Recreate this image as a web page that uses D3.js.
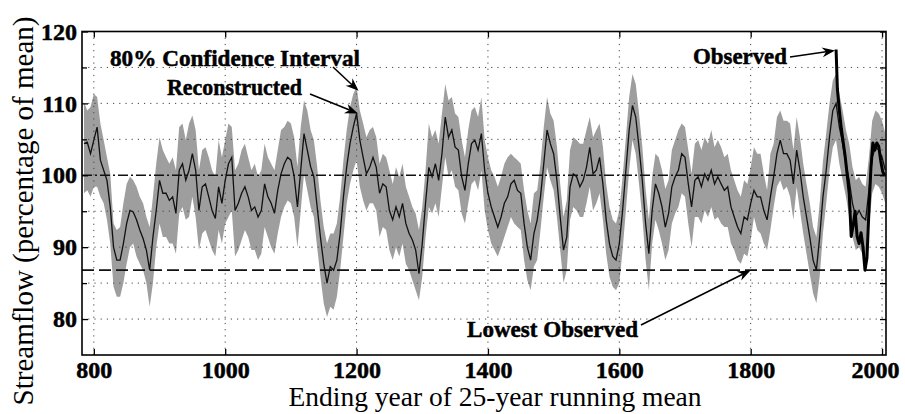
<!DOCTYPE html>
<html>
<head>
<meta charset="utf-8">
<script src="https://cdn.jsdelivr.net/npm/d3@7"></script>
<style>
  html, body { margin: 0; padding: 0; background: #fff; }
  svg { display: block; font-family: "Liberation Serif", "Times New Roman", serif; }
  .heavy { font-family: "Liberation Serif", "Times New Roman", serif; font-weight: bold;
           stroke: #000; stroke-width: 0.5px; stroke-linejoin: round; }
</style>
</head>
<body>
<svg id="chart" width="905" height="414"></svg>
<script>
// Ending year of each 25-year running mean (reconstruction)
const years = [
  785, 790, 795, 800, 805, 810, 815, 820, 825, 830, 835, 840, 845, 850, 855, 860, 865, 870, 875, 880,
  885, 890, 895, 900, 905, 910, 915, 920, 925, 930, 935, 940, 945, 950, 955, 960, 965, 970, 975, 980,
  985, 990, 995, 1000, 1005, 1010, 1015, 1020, 1025, 1030, 1035, 1040, 1045, 1050, 1055, 1060, 1065, 1070, 1075, 1080,
  1085, 1090, 1095, 1100, 1105, 1110, 1115, 1120, 1125, 1130, 1135, 1140, 1145, 1150, 1155, 1160, 1165, 1170, 1175, 1180,
  1185, 1190, 1195, 1200, 1205, 1210, 1215, 1220, 1225, 1230, 1235, 1240, 1245, 1250, 1255, 1260, 1265, 1270, 1275, 1280,
  1285, 1290, 1295, 1300, 1305, 1310, 1315, 1320, 1325, 1330, 1335, 1340, 1345, 1350, 1355, 1360, 1365, 1370, 1375, 1380,
  1385, 1390, 1395, 1400, 1405, 1410, 1415, 1420, 1425, 1430, 1435, 1440, 1445, 1450, 1455, 1460, 1465, 1470, 1475, 1480,
  1485, 1490, 1495, 1500, 1505, 1510, 1515, 1520, 1525, 1530, 1535, 1540, 1545, 1550, 1555, 1560, 1565, 1570, 1575, 1580,
  1585, 1590, 1595, 1600, 1605, 1610, 1615, 1620, 1625, 1630, 1635, 1640, 1645, 1650, 1655, 1660, 1665, 1670, 1675, 1680,
  1685, 1690, 1695, 1700, 1705, 1710, 1715, 1720, 1725, 1730, 1735, 1740, 1745, 1750, 1755, 1760, 1765, 1770, 1775, 1780,
  1785, 1790, 1795, 1800, 1805, 1810, 1815, 1820, 1825, 1830, 1835, 1840, 1845, 1850, 1855, 1860, 1865, 1870, 1875, 1880,
  1885, 1890, 1895, 1900, 1905, 1910, 1915, 1920, 1925, 1930, 1935, 1940, 1945, 1950, 1955, 1960, 1965, 1970, 1975, 1980,
  1985, 1990, 1995, 2000, 2005
];

// Reconstructed streamflow, percentage of mean
const reconstructed = [
  104.4, 104.6, 103.0, 104.9, 106.7, 102.1, 100.7, 99.3, 95.6, 90.0, 88.2, 88.2, 90.5, 93.3, 95.1, 94.9, 93.8, 92.4, 91.2, 89.6,
  86.8, 91.4, 95.1, 99.3, 97.5, 97.5, 96.5, 97.0, 94.7, 100.7, 101.6, 99.3, 100.7, 103.0, 100.7, 95.1, 98.4, 98.8, 97.0, 95.1,
  94.0, 98.4, 96.1, 99.3, 101.6, 102.5, 95.1, 96.1, 97.5, 98.4, 97.0, 95.1, 95.6, 94.2, 95.1, 98.8, 97.0, 96.1, 94.7, 97.9,
  100.2, 101.6, 102.5, 102.1, 99.8, 95.6, 100.7, 105.8, 103.5, 101.2, 99.8, 95.6, 91.4, 87.7, 85.0, 87.3, 86.8, 88.2, 91.9, 97.0,
  101.2, 104.4, 106.7, 108.6, 104.9, 102.5, 100.2, 101.1, 102.5, 101.1, 97.5, 98.8, 98.4, 95.1, 93.8, 95.6, 94.2, 96.1, 93.3, 91.9,
  91.0, 89.6, 86.3, 90.5, 96.1, 101.1, 99.8, 101.6, 99.3, 103.0, 108.1, 105.3, 106.3, 103.9, 103.5, 99.8, 97.9, 101.6, 104.4, 104.9,
  103.5, 105.8, 100.7, 97.5, 95.6, 94.2, 92.8, 94.2, 96.1, 97.0, 98.8, 99.3, 97.9, 97.5, 93.3, 90.0, 88.2, 91.9, 93.8, 97.0,
  101.6, 106.3, 104.4, 103.0, 99.3, 94.2, 89.6, 91.4, 98.4, 100.2, 99.8, 98.4, 99.3, 101.1, 103.9, 100.2, 100.7, 102.5, 98.8, 93.8,
  90.5, 88.7, 88.2, 90.5, 95.1, 100.7, 106.3, 109.7, 108.1, 103.9, 99.3, 93.3, 89.1, 95.1, 98.8, 97.5, 95.6, 92.8, 94.7, 98.4,
  99.8, 100.7, 103.0, 102.5, 98.8, 95.6, 99.3, 99.8, 98.4, 100.2, 99.3, 100.7, 98.8, 99.8, 98.8, 97.9, 98.4, 95.6, 94.2, 92.8,
  91.9, 94.2, 93.8, 96.1, 97.9, 97.0, 97.0, 95.1, 93.8, 97.0, 99.8, 103.0, 104.9, 103.0, 103.0, 102.1, 98.8, 103.5, 100.7, 97.0,
  94.2, 91.4, 88.2, 86.8, 91.4, 97.0, 100.7, 105.3, 109.0, 110.0, 106.7, 104.4, 101.6, 99.3, 96.1, 94.2, 95.1, 94.2, 93.8, 97.9,
  102.5, 103.9, 103.5, 102.5, 100.7
];

// Upper bound of the 80% confidence interval
const upper80 = [
  110.2, 109.0, 109.5, 111.3, 110.9, 107.2, 104.9, 102.5, 100.2, 93.3, 92.4, 92.8, 96.1, 98.8, 99.8, 99.3, 98.4, 97.0, 96.1, 94.2,
  92.8, 97.0, 101.6, 105.3, 103.5, 102.5, 101.6, 102.5, 100.7, 106.7, 107.2, 104.9, 107.2, 108.3, 106.3, 100.7, 103.5, 103.9, 102.5, 100.7,
  99.8, 104.9, 102.5, 104.9, 107.2, 106.7, 100.7, 101.6, 103.5, 104.4, 102.5, 100.7, 101.6, 99.8, 100.7, 104.4, 102.5, 101.6, 100.7, 103.5,
  106.3, 106.7, 107.6, 107.2, 105.3, 101.2, 106.7, 110.4, 109.0, 106.3, 104.9, 101.2, 96.5, 92.8, 90.5, 91.9, 91.9, 93.3, 97.0, 102.1,
  106.3, 109.5, 111.3, 112.3, 109.0, 107.2, 105.3, 106.3, 106.7, 105.3, 101.6, 103.0, 102.5, 100.7, 98.8, 101.1, 99.8, 101.6, 98.4, 97.0,
  95.6, 94.7, 92.4, 95.6, 100.7, 107.2, 105.3, 106.3, 104.4, 108.6, 112.7, 110.4, 110.9, 108.6, 108.1, 104.9, 102.5, 106.3, 109.0, 109.5,
  108.1, 110.9, 104.9, 102.5, 100.7, 99.8, 98.4, 99.8, 101.6, 102.5, 103.0, 102.5, 102.1, 101.6, 97.9, 95.1, 93.3, 97.5, 97.9, 101.6,
  106.7, 110.9, 108.6, 107.6, 104.0, 98.8, 94.2, 96.5, 103.5, 105.3, 104.9, 104.4, 104.4, 106.3, 108.1, 105.3, 106.3, 107.2, 104.0, 98.8,
  95.6, 93.8, 93.3, 95.1, 99.8, 105.3, 110.9, 114.1, 112.7, 108.6, 104.0, 98.1, 93.8, 99.8, 103.0, 102.5, 100.7, 98.1, 99.3, 103.5,
  104.9, 106.3, 107.2, 106.7, 103.5, 100.2, 104.4, 104.9, 103.5, 105.3, 104.4, 106.3, 103.9, 104.9, 103.9, 102.5, 103.0, 100.7, 99.3, 97.9,
  97.0, 99.3, 98.8, 101.1, 103.9, 103.0, 103.0, 100.2, 97.9, 103.0, 104.4, 108.1, 109.0, 107.6, 107.6, 107.2, 103.5, 108.1, 105.3, 101.6,
  98.8, 96.1, 92.8, 91.4, 96.1, 101.9, 105.8, 110.0, 113.2, 114.1, 111.3, 109.0, 106.3, 104.4, 101.1, 99.3, 99.8, 98.8, 98.4, 102.5,
  107.6, 109.0, 108.6, 107.6, 105.8
];

// Lower bound of the 80% confidence interval
const lower80 = [
  97.5, 97.9, 97.0, 98.4, 98.4, 97.0, 96.1, 93.8, 90.5, 84.5, 83.1, 83.1, 85.0, 87.7, 90.0, 90.5, 88.7, 87.7, 86.8, 85.0,
  81.7, 85.0, 90.0, 93.3, 91.4, 91.4, 90.5, 90.5, 89.1, 94.7, 95.6, 93.8, 94.2, 97.0, 94.2, 89.6, 91.9, 92.4, 91.0, 89.6,
  88.7, 92.4, 90.5, 93.3, 94.2, 95.1, 88.7, 89.6, 91.0, 92.4, 91.4, 89.6, 89.6, 88.2, 89.1, 92.8, 91.4, 90.0, 89.1, 91.9,
  94.2, 95.6, 96.5, 96.1, 94.2, 90.0, 95.1, 100.2, 97.9, 95.6, 94.2, 90.0, 85.9, 82.2, 80.3, 81.7, 81.3, 83.1, 86.8, 91.4,
  96.1, 98.8, 100.7, 102.1, 98.4, 96.5, 95.1, 96.1, 96.1, 95.1, 91.4, 92.8, 92.4, 89.6, 88.2, 90.0, 88.7, 90.5, 87.7, 86.8,
  85.4, 84.0, 82.6, 85.9, 91.4, 95.6, 94.7, 96.1, 94.2, 98.4, 102.5, 99.8, 100.7, 98.4, 97.9, 94.7, 93.3, 96.1, 98.8, 99.3,
  97.9, 100.7, 95.1, 92.4, 90.5, 89.6, 88.7, 90.0, 91.4, 92.8, 94.2, 93.3, 92.8, 92.4, 88.2, 85.4, 84.0, 87.3, 88.2, 92.4,
  97.0, 101.1, 99.3, 97.9, 94.2, 89.6, 85.0, 86.8, 93.8, 95.6, 95.1, 94.2, 94.2, 96.1, 98.4, 95.1, 96.1, 97.5, 93.8, 89.1,
  85.9, 84.5, 84.0, 85.0, 89.6, 95.1, 100.7, 104.9, 103.0, 98.8, 94.2, 88.2, 84.0, 90.5, 93.8, 92.4, 90.5, 88.2, 89.6, 93.3,
  94.7, 95.6, 97.5, 97.0, 93.3, 90.0, 94.2, 94.2, 93.3, 95.1, 94.2, 95.6, 93.8, 94.2, 93.3, 92.8, 92.8, 90.5, 89.6, 88.2,
  87.7, 89.1, 88.7, 91.0, 94.2, 92.4, 91.9, 90.5, 89.6, 92.4, 95.6, 98.4, 99.3, 97.9, 98.4, 97.0, 93.8, 98.4, 95.1, 91.9,
  89.1, 86.3, 83.6, 82.2, 85.9, 91.9, 96.1, 100.7, 103.9, 104.9, 101.6, 99.3, 97.0, 94.2, 91.4, 89.6, 90.0, 89.1, 88.7, 92.8,
  97.5, 98.8, 98.4, 97.5, 96.1
];

// Observed 25-year running mean
const observedYears = [1930, 1932, 1935, 1938, 1941, 1944, 1947, 1950, 1953, 1956, 1959, 1962, 1965,
  1968, 1971, 1974, 1977, 1980, 1983, 1986, 1989, 1992, 1995, 1998, 2001, 2004];
const observed = [117.5, 112.0, 109.0, 106.5, 104.5, 102.5, 100.0, 97.5, 91.5, 93.0, 95.0, 91.5, 90.5,
  92.0, 90.0, 86.8, 88.5, 95.0, 101.0, 104.5, 103.5, 104.5, 104.0, 102.0, 100.5, 100.0];

const xTicks = [800, 1000, 1200, 1400, 1600, 1800, 2000];
const yTicks = [80, 90, 100, 110, 120];
const yMinorTicks = [85, 95, 105, 115];
const yGrid = [80, 85, 90, 95, 105, 110, 115];
const meanFlow = 100;
const lowestObserved = 86.8;

const svg = d3.select("#chart");
const box = { left: 82, right: 886, top: 31.5, bottom: 355 };

const x = d3.scaleLinear().domain([782, 2006]).range([box.left, box.right]);
const y = d3.scaleLinear().domain([75, 120]).range([box.bottom, box.top]);

const recon = years.map((yr, i) => ({ yr, v: reconstructed[i], hi: upper80[i], lo: lower80[i] }));
const obs = observedYears.map((yr, i) => ({ yr, v: observed[i] }));

// confidence band
svg.append("path")
  .datum(recon)
  .attr("fill", "#9e9e9e")
  .attr("d", d3.area().x(d => x(d.yr)).y0(d => y(d.lo)).y1(d => y(d.hi)));

// dotted grid
const grid = svg.append("g").attr("stroke", "#444").attr("stroke-width", 1)
  .attr("stroke-dasharray", "1.2,5");
grid.selectAll("line.h").data(yGrid).join("line")
  .attr("x1", box.left).attr("x2", box.right)
  .attr("y1", d => y(d)).attr("y2", d => y(d));
grid.selectAll("line.v").data(xTicks).join("line")
  .attr("y1", box.top).attr("y2", box.bottom)
  .attr("x1", d => x(d)).attr("x2", d => x(d));

// mean (dash-dot) and lowest observed (dashed) reference lines
svg.append("line")
  .attr("x1", box.left).attr("x2", box.right)
  .attr("y1", y(meanFlow)).attr("y2", y(meanFlow))
  .attr("stroke", "#111").attr("stroke-width", 1.6)
  .attr("stroke-dasharray", "10,3,2,3");
svg.append("line")
  .attr("x1", box.left).attr("x2", box.right)
  .attr("y1", y(lowestObserved)).attr("y2", y(lowestObserved))
  .attr("stroke", "#111").attr("stroke-width", 1.8)
  .attr("stroke-dasharray", "12,5");

// reconstructed series
svg.append("path")
  .datum(recon)
  .attr("fill", "none").attr("stroke", "#111").attr("stroke-width", 1.3)
  .attr("d", d3.line().x(d => x(d.yr)).y(d => y(d.v)));

// observed series
svg.append("path")
  .datum(obs)
  .attr("fill", "none").attr("stroke", "#000").attr("stroke-width", 3)
  .attr("stroke-linejoin", "round")
  .attr("d", d3.line().x(d => x(d.yr)).y(d => y(d.v)));

// axes with inward ticks
const axB = svg.append("g").attr("transform", `translate(0,${box.bottom})`)
  .call(d3.axisBottom(x).tickValues(xTicks).tickSize(-6).tickPadding(6).tickFormat(d3.format("d")));
const axT = svg.append("g").attr("transform", `translate(0,${box.top})`)
  .call(d3.axisTop(x).tickValues(xTicks).tickSize(-6).tickFormat(""));
const axL = svg.append("g").attr("transform", `translate(${box.left},0)`)
  .call(d3.axisLeft(y).tickValues(yTicks).tickSize(-6).tickPadding(5));
const axLm = svg.append("g").attr("transform", `translate(${box.left},0)`)
  .call(d3.axisLeft(y).tickValues(yMinorTicks).tickSize(-5).tickFormat(""));
const axR = svg.append("g").attr("transform", `translate(${box.right},0)`)
  .call(d3.axisRight(y).tickValues(yTicks.concat(yMinorTicks)).tickSize(-6).tickFormat(""));

[axB, axT, axL, axLm, axR].forEach(g => {
  g.attr("font-family", null).attr("font-size", 24);
  g.select(".domain").remove();
  g.selectAll(".tick line").attr("stroke", "#000").attr("stroke-width", 1.3);
  g.selectAll("text").attr("fill", "#000").attr("class", "heavy");
});
// the last year label sits just inside the frame
axB.selectAll(".tick text").filter(d => d === 2000).attr("dx", -7);

// plot frame
svg.append("rect")
  .attr("x", box.left).attr("y", box.top)
  .attr("width", box.right - box.left).attr("height", box.bottom - box.top)
  .attr("fill", "none").attr("stroke", "#000").attr("stroke-width", 1.6);

// axis titles
svg.append("text")
  .attr("x", 495).attr("y", 406)
  .attr("text-anchor", "middle")
  .style("font-size", "27.5px")
  .text("Ending year of 25-year running mean");
svg.append("text")
  .attr("transform", "translate(33,211) rotate(-90)")
  .attr("text-anchor", "middle")
  .style("font-size", "29px")
  .text("Streamflow (percentage of mean)");

// annotations (heavy serif lettering)
const note = (tx, ty, anchor, label, span) => svg.append("text")
  .attr("x", tx).attr("y", ty).attr("text-anchor", anchor)
  .attr("class", "heavy")
  .attr("textLength", span).attr("lengthAdjust", "spacingAndGlyphs")
  .style("font-size", "23px")
  .text(label);
note(110, 66, "start", "80% Confidence Interval", 250);
note(302, 95, "end", "Reconstructed", 135);
note(693, 64, "start", "Observed", 94);
note(467, 337, "start", "Lowest Observed", 171);

function arrow(x1, y1, x2, y2) {
  const a = Math.atan2(y2 - y1, x2 - x1);
  const len = 13, half = 5, notch = 9;
  const ca = Math.cos(a), sa = Math.sin(a);
  const bx = x2 - len * ca, by = y2 - len * sa;
  const nx = x2 - notch * ca, ny = y2 - notch * sa;
  svg.append("line")
    .attr("x1", x1).attr("y1", y1).attr("x2", nx).attr("y2", ny)
    .attr("stroke", "#000").attr("stroke-width", 1.6);
  svg.append("path")
    .attr("d", `M${x2},${y2}L${bx - half * sa},${by + half * ca}L${nx},${ny}L${bx + half * sa},${by - half * ca}Z`)
    .attr("fill", "#000");
}
// pointer from each label to the feature it names
arrow(333, 67, x(1203), y(upper80[years.indexOf(1200)]) + 4);
arrow(310, 94, x(1202), y(reconstructed[years.indexOf(1200)]));
arrow(790, 57, x(observedYears[0]) - 1, y(observed[0]) + 1);
arrow(641, 325, x(1800), y(lowestObserved));
</script>
</body>
</html>
